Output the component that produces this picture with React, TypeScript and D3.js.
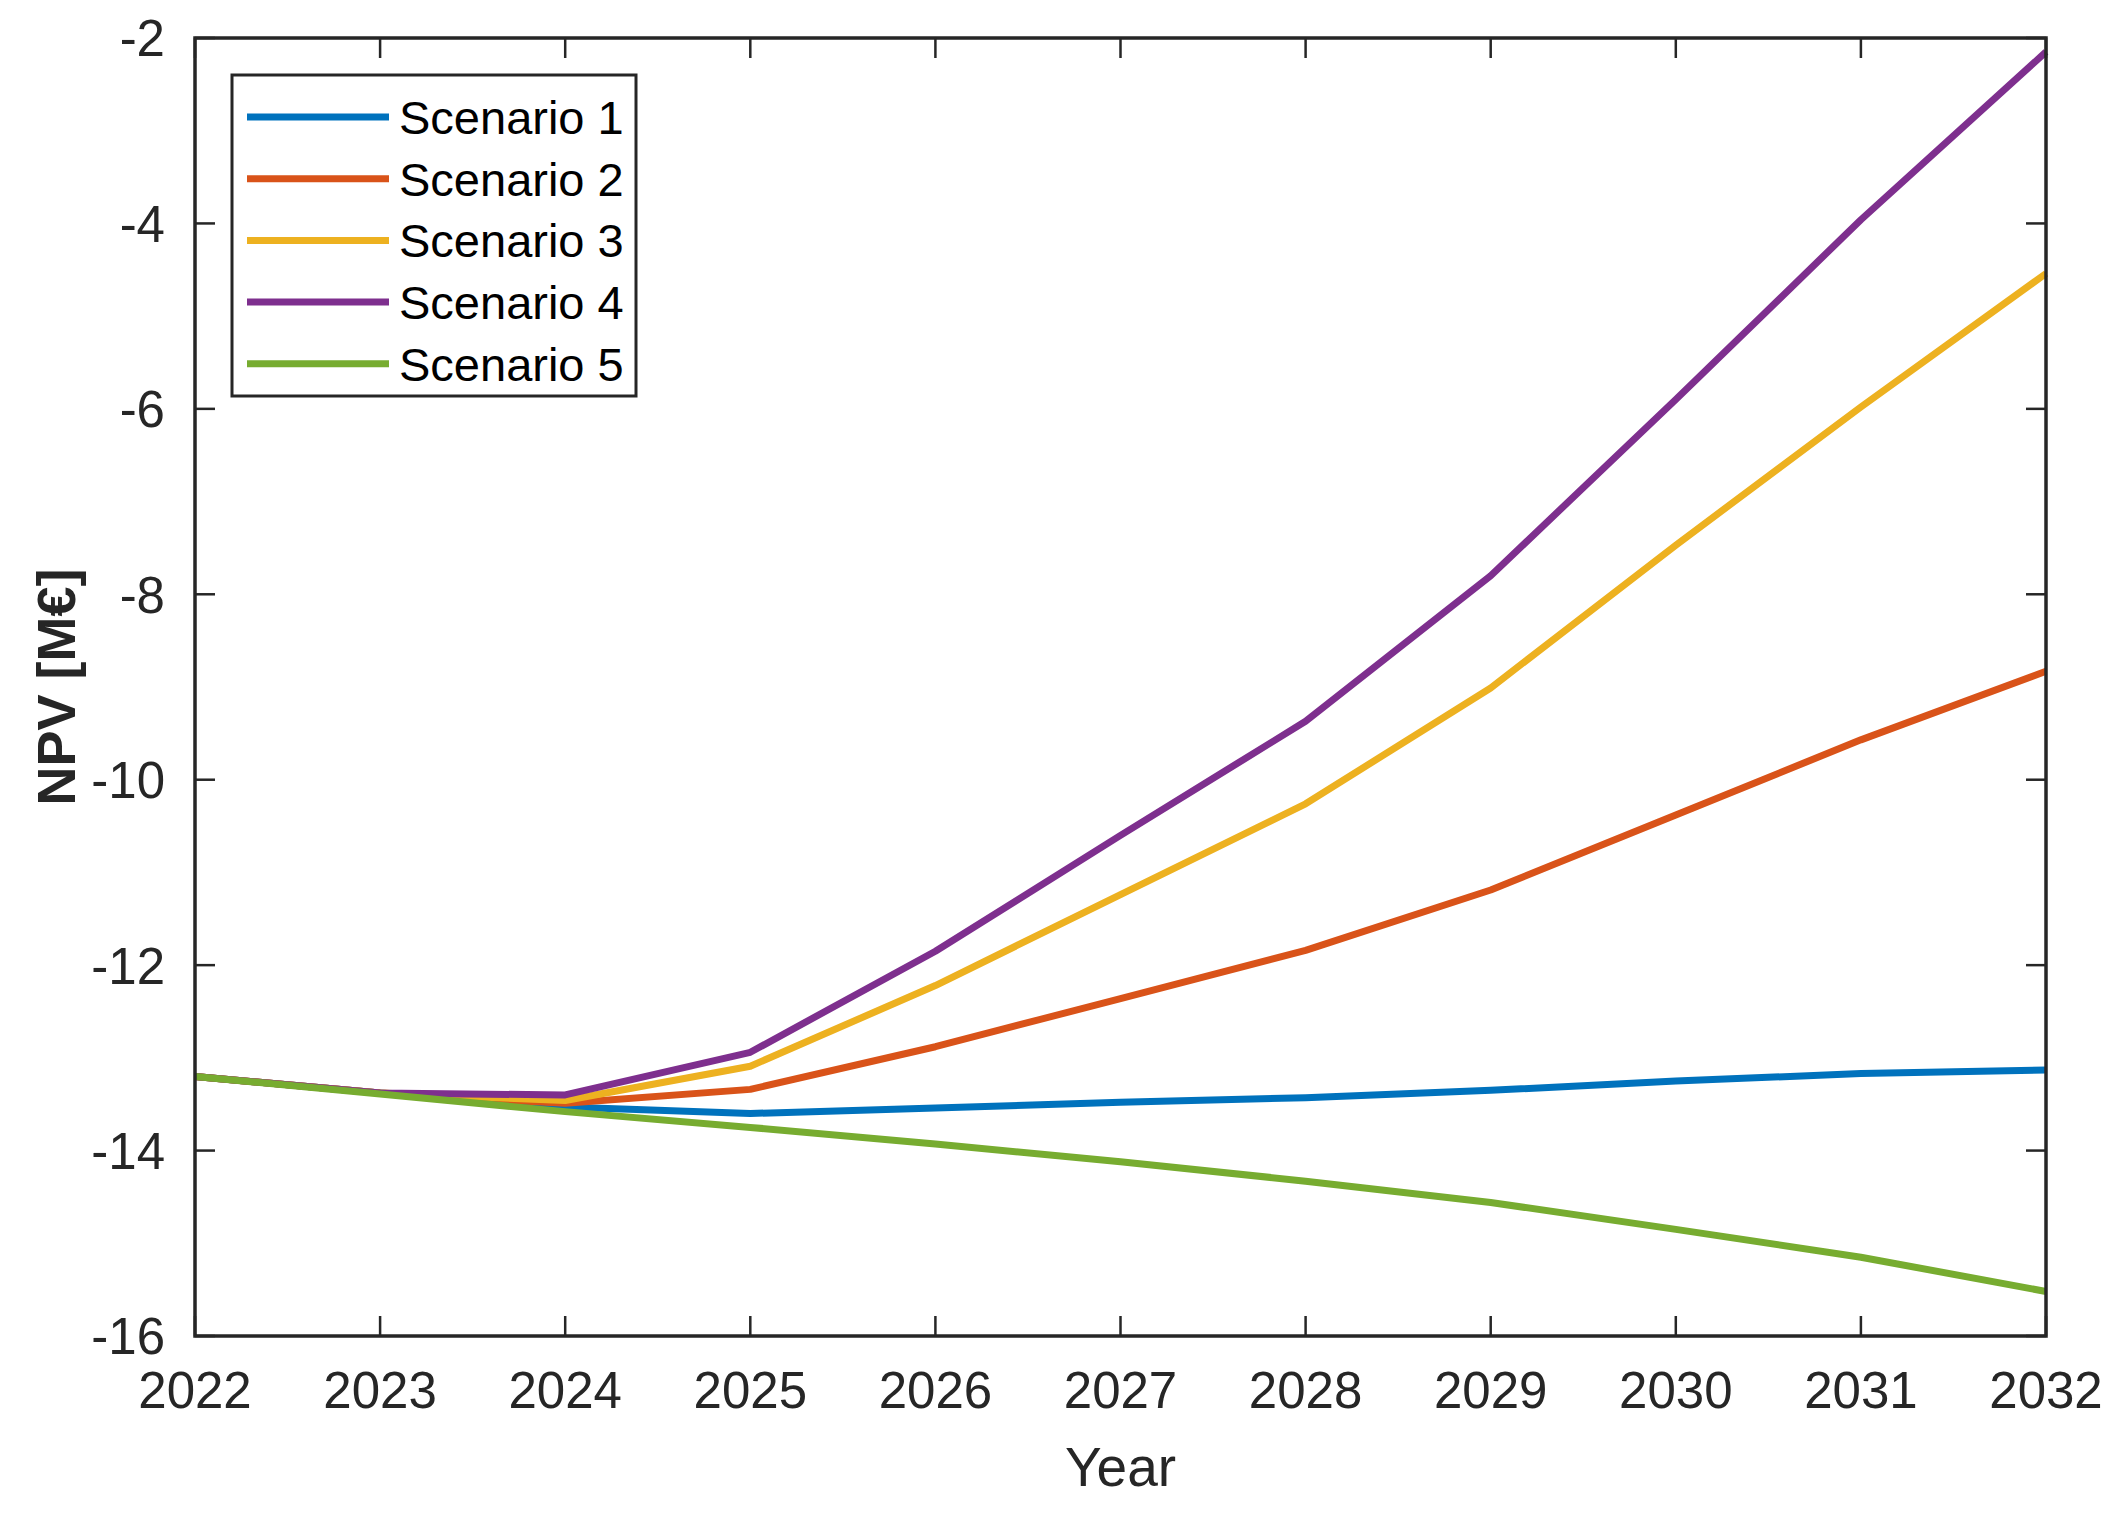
import { useEffect } from 'react';
import * as d3 from 'd3';

const years = [2022, 2023, 2024, 2025, 2026, 2027, 2028, 2029, 2030, 2031, 2032];
const seriesNames = ['Scenario 1', 'Scenario 2', 'Scenario 3', 'Scenario 4', 'Scenario 5'];
const seriesColors = ['#0072BD', '#D95319', '#EDB120', '#7E2F8E', '#77AC30'];

const scenario1 = [-13.2, -13.38, -13.53, -13.6, -13.54, -13.48, -13.43, -13.35, -13.25, -13.17, -13.13];
const scenario2 = [-13.2, -13.38, -13.49, -13.34, -12.88, -12.36, -11.84, -11.19, -10.38, -9.57, -8.83];
const scenario3 = [-13.2, -13.38, -13.46, -13.09, -12.22, -11.24, -10.26, -9.01, -7.47, -5.98, -4.54];
const scenario4 = [-13.2, -13.38, -13.4, -12.94, -11.85, -10.6, -9.37, -7.8, -5.9, -3.96, -2.15];
const scenario5 = [-13.2, -13.39, -13.58, -13.75, -13.93, -14.12, -14.33, -14.56, -14.85, -15.15, -15.52];
const allSeries = [scenario1, scenario2, scenario3, scenario4, scenario5];

const yTicks = [-16, -14, -12, -10, -8, -6, -4, -2];

const W = 2113;
const H = 1513;
const margin = { left: 195, right: 67, top: 38, bottom: 177 };
const axisColor = '#262626';
const font = '"Liberation Sans", Arial, Helvetica, sans-serif';

export default function App() {
  useEffect(() => {
    document.body.style.margin = '0';
  }, []);

  const x = d3.scaleLinear().domain([2022, 2032]).range([margin.left, W - margin.right]);
  const y = d3.scaleLinear().domain([-16, -2]).range([H - margin.bottom, margin.top]);
  const line = d3.line<number>()
    .x((_, i) => x(years[i]))
    .y((d) => y(d));

  const left = x.range()[0];
  const right = x.range()[1];
  const top = y.range()[1];
  const bottom = y.range()[0];
  const tick = 20;

  // legend layout
  const lg = { x: 232, y: 75, w: 404, h: 321, row: 61.7, first: 117 };

  return (
    <svg width={W} height={H} style={{ display: 'block', background: '#fff' }} fontFamily={font}>
      {/* data lines */}
      {allSeries.map((s, i) => (
        <path key={i} d={line(s) || ''} fill="none" stroke={seriesColors[i]} strokeWidth={7} strokeLinejoin="round" />
      ))}

      {/* box */}
      <rect x={left} y={top} width={right - left} height={bottom - top} fill="none" stroke={axisColor} strokeWidth={3.5} />

      {/* x ticks */}
      {years.map((yr) => (
        <g key={yr}>
          <line x1={x(yr)} x2={x(yr)} y1={bottom} y2={bottom - tick} stroke={axisColor} strokeWidth={2.5} />
          <line x1={x(yr)} x2={x(yr)} y1={top} y2={top + tick} stroke={axisColor} strokeWidth={2.5} />
          <text x={x(yr)} y={bottom + 72} textAnchor="middle" fontSize={51} fill={axisColor}>{yr}</text>
        </g>
      ))}

      {/* y ticks */}
      {yTicks.map((t) => (
        <g key={t}>
          <line x1={left} x2={left + tick} y1={y(t)} y2={y(t)} stroke={axisColor} strokeWidth={2.5} />
          <line x1={right} x2={right - tick} y1={y(t)} y2={y(t)} stroke={axisColor} strokeWidth={2.5} />
          <text x={left - 30} y={y(t)} dy="0.36em" textAnchor="end" fontSize={51} fill={axisColor}>{t}</text>
        </g>
      ))}

      {/* axis labels */}
      <text x={(left + right) / 2} y={bottom + 150} textAnchor="middle" fontSize={55} fill={axisColor}>Year</text>
      <text
        transform={`translate(${75},${(top + bottom) / 2}) rotate(-90)`}
        textAnchor="middle"
        fontSize={54}
        fontWeight="bold"
        fill={axisColor}
      >
        NPV [M€]
      </text>

      {/* legend */}
      <rect x={lg.x} y={lg.y} width={lg.w} height={lg.h} fill="#fff" stroke={axisColor} strokeWidth={3} />
      {seriesNames.map((name, i) => {
        const yy = lg.first + i * lg.row;
        return (
          <g key={name}>
            <line x1={lg.x + 15} x2={lg.x + 157} y1={yy} y2={yy} stroke={seriesColors[i]} strokeWidth={7} />
            <text x={lg.x + 167} y={yy} dy="0.36em" fontSize={47} fill="#000">{name}</text>
          </g>
        );
      })}
    </svg>
  );
}
